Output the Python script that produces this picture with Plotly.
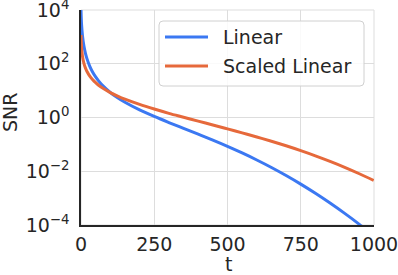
import plotly.graph_objects as go

# values
t_vals = [0, 2, 5, 10, 15, 20, 30, 40, 50, 60, 75, 100, 125, 150, 200, 250, 300, 350,
          400, 450, 500, 550, 600, 650, 700, 750, 800, 850, 900, 950, 999]
snr_linear = [9999, 2778, 1111, 455, 250, 159, 80.4, 48.5, 32.3, 23.0, 15.0, 8.54, 5.41,
              3.67, 1.91, 1.09, 0.650, 0.395, 0.240, 0.144, 0.0844, 0.0479, 0.0262,
              0.0138, 0.00692, 0.00331, 0.00151, 0.000655, 0.000270, 0.000106, 0.0000403]
snr_scaled = [1175, 389, 192, 104, 70.1, 52.5, 34.5, 25.3, 19.7, 15.9, 12.2, 8.46, 6.26,
              4.81, 3.06, 2.06, 1.43, 1.02, 0.731, 0.527, 0.378, 0.269, 0.189, 0.131,
              0.0885, 0.0584, 0.0375, 0.0233, 0.0140, 0.00807, 0.00454]
series_names = ["Linear", "Scaled Linear"]
series_colors = ["#3b78f2", "#e6693b"]
x_ticks = [0, 250, 500, 750, 1000]
y_ticks = [1e-4, 1e-2, 1, 1e2, 1e4]
y_tick_text = ["10<sup>−4</sup>", "10<sup>−2</sup>", "10<sup>0</sup>", "10<sup>2</sup>", "10<sup>4</sup>"]

font_family = "DejaVu Sans"
txt = "#262626"
grid = "#dddddd"

W, H = 398, 275
ML, MR, MT, MB = 81, 24, 10, 50
PW, PH = W - ML - MR, H - MT - MB


def px_x(px):
    return (px - ML) / PW


def px_y(py):
    return (H - MB - py) / PH


fig = go.Figure()
for name, ys, col in zip(series_names, [snr_linear, snr_scaled], series_colors):
    fig.add_trace(go.Scatter(x=t_vals, y=ys, mode="lines", name=name, showlegend=False,
                             line=dict(color=col, width=3, shape="spline")))

shapes = [dict(type="rect", xref="paper", yref="paper", x0=0, y0=0, x1=1, y1=1,
               line=dict(color=grid, width=1), layer="below")]

# legend box (rounded) built in pixel-converted paper coordinates
lx0, lx1, ly0, ly1 = px_x(159), px_x(364), px_y(86), px_y(21)
rx, ry = 4 / PW, 4 / PH
path = (f"M{lx0+rx},{ly0} L{lx1-rx},{ly0} Q{lx1},{ly0} {lx1},{ly0+ry} "
        f"L{lx1},{ly1-ry} Q{lx1},{ly1} {lx1-rx},{ly1} L{lx0+rx},{ly1} "
        f"Q{lx0},{ly1} {lx0},{ly1-ry} L{lx0},{ly0+ry} Q{lx0},{ly0} {lx0+rx},{ly0} Z")
shapes.append(dict(type="path", xref="paper", yref="paper", path=path,
                   fillcolor="rgba(255,255,255,0.85)", line=dict(color="#d0d0d0", width=1),
                   layer="above"))
annotations = []
for i, (name, col) in enumerate(zip(series_names, series_colors)):
    yy = px_y(37 + i * 29)
    shapes.append(dict(type="line", xref="paper", yref="paper", x0=px_x(165), x1=px_x(208),
                       y0=yy, y1=yy, line=dict(color=col, width=3), layer="above"))
    annotations.append(dict(xref="paper", yref="paper", x=px_x(221), y=yy, text=name,
                            xanchor="left", yanchor="middle", showarrow=False,
                            font=dict(size=19, color=txt)))

annotations.append(dict(xref="paper", yref="paper", x=px_x(10.5), y=px_y(112.5), text="SNR",
                        textangle=-90, xanchor="center", yanchor="middle", showarrow=False,
                        font=dict(size=19, color=txt)))
annotations.append(dict(xref="paper", yref="paper", x=px_x(228), y=px_y(264), text="t",
                        xanchor="center", yanchor="middle", showarrow=False,
                        font=dict(size=19, color=txt)))

fig.update_layout(
    width=W, height=H,
    margin=dict(l=ML, r=MR, t=MT, b=MB),
    paper_bgcolor="white", plot_bgcolor="white",
    font=dict(family=font_family, size=19, color=txt),
    showlegend=False,
    shapes=shapes, annotations=annotations,
)
fig.update_xaxes(range=[0, 1000], tickvals=x_ticks, ticktext=[str(v) for v in x_ticks],
                 showgrid=True, gridcolor=grid, gridwidth=1, zeroline=False,
                 showline=True, linecolor=txt, linewidth=1.5, mirror=False,
                 ticks="outside", ticklen=1, tickcolor="rgba(0,0,0,0)",
                 automargin=False, ticklabeloverflow="allow")
fig.update_yaxes(type="log", range=[-4, 4], tickvals=y_ticks, ticktext=y_tick_text,
                 showgrid=True, gridcolor=grid, gridwidth=1, zeroline=False,
                 showline=True, linecolor=txt, linewidth=1.5, mirror=False,
                 ticks="outside", ticklen=6, tickcolor="rgba(0,0,0,0)",
                 automargin=False, ticklabeloverflow="allow")

fig.write_html("out.html", config={"displayModeBar": False},
               post_script="document.body.style.margin='0';document.body.style.overflow='hidden';")
